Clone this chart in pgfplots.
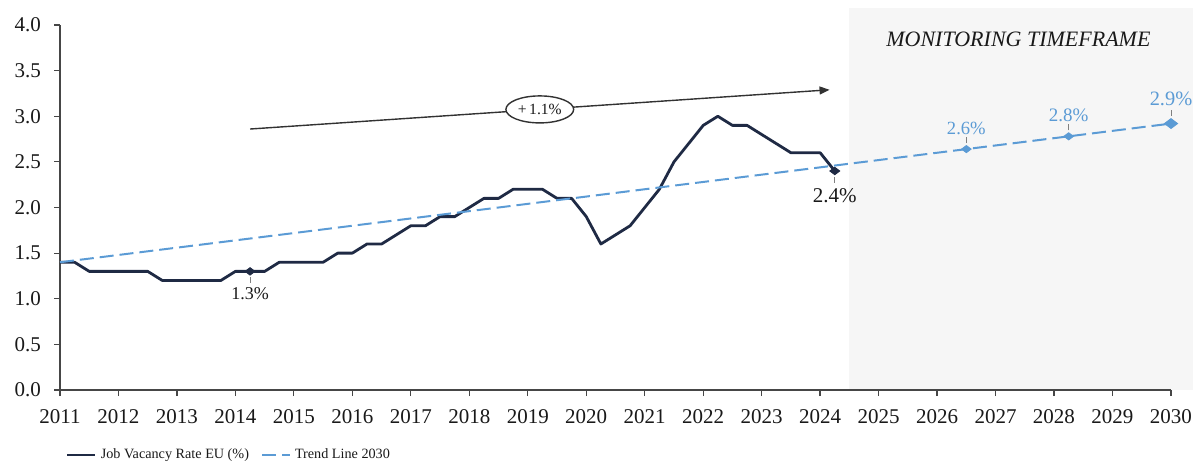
\documentclass[border=0pt]{standalone}
\usepackage{pgfplots}
\usepackage{pgfplotstable}
\pgfplotsset{compat=1.18}
\usepackage{fontspec}
\setmainfont{Liberation Serif}
\usetikzlibrary{arrows.meta,shapes.geometric}
\definecolor{navy}{RGB}{31,42,68}
\definecolor{trend}{RGB}{91,155,213}
\definecolor{bandgray}{RGB}{246,246,246}
\definecolor{axisgray}{RGB}{70,70,70}
\definecolor{txt}{RGB}{25,25,25}

\pgfplotstableread{
x y
2011.00 1.4
2011.25 1.4
2011.50 1.3
2011.75 1.3
2012.00 1.3
2012.25 1.3
2012.50 1.3
2012.75 1.2
2013.00 1.2
2013.25 1.2
2013.50 1.2
2013.75 1.2
2014.00 1.3
2014.25 1.3
2014.50 1.3
2014.75 1.4
2015.00 1.4
2015.25 1.4
2015.50 1.4
2015.75 1.5
2016.00 1.5
2016.25 1.6
2016.50 1.6
2016.75 1.7
2017.00 1.8
2017.25 1.8
2017.50 1.9
2017.75 1.9
2018.00 2.0
2018.25 2.1
2018.50 2.1
2018.75 2.2
2019.00 2.2
2019.25 2.2
2019.50 2.1
2019.75 2.1
2020.00 1.9
2020.25 1.6
2020.50 1.7
2020.75 1.8
2021.00 2.0
2021.25 2.2
2021.50 2.5
2021.75 2.7
2022.00 2.9
2022.25 3.0
2022.50 2.9
2022.75 2.9
2023.00 2.8
2023.25 2.7
2023.50 2.6
2023.75 2.6
2024.00 2.6
2024.25 2.4
}\jvr

\pgfplotstableread{
x y
2011.00 1.40
2030.00 2.92
}\trendtab

\pgfplotstableread{
x y
2026.50 2.64
2028.25 2.78
}\trendpts

\begin{document}
\begin{tikzpicture}
\begin{axis}[
  set layers,
  scale only axis,
  width=555.5pt, height=182.5pt,
  xmin=2011, xmax=2030, ymin=0, ymax=4,
  clip=false,
  axis x line*=bottom, axis y line*=left,
  axis line style={axisgray, line width=0.6pt},
  tick align=outside,
  major tick length=3pt, minor tick length=3pt,
  tick style={axisgray, line width=0.6pt},
  xtick={2011,2012,...,2030},
  minor x tick num=3,
  ytick={0,0.5,1,1.5,2,2.5,3,3.5,4},
  /pgf/number format/assume math mode=true,
  xticklabel style={/pgf/number format/1000 sep=, font=\fontsize{10.5}{12}\selectfont, text=txt, yshift=-3pt},
  yticklabel style={/pgf/number format/fixed, /pgf/number format/fixed zerofill, /pgf/number format/precision=1, font=\fontsize{10.5}{12}\selectfont, text=txt, xshift=-3pt},
  legend style={draw=none, fill=none, at={(0.005,-0.178)}, anchor=west, inner sep=0pt,
    font=\fontsize{7.1}{8}\selectfont, text=txt,
    /tikz/every even column/.append style={column sep=4pt}},
  legend columns=2,
  legend image code/.code={\draw[#1] (0pt,0pt) -- (14pt,0pt);},
]
\coordinate (BL) at (rel axis cs:0,0);
\coordinate (TR) at (rel axis cs:1,1);

\begin{pgfonlayer}{axis background}
\fill[fill=bandgray] (axis cs:2024.5,0) rectangle (axis cs:2030.37,4.19);
\end{pgfonlayer}

\addplot[navy, line width=1.4pt, line join=round] table[x=x,y=y] {\jvr};
\addlegendentry{Job Vacancy Rate EU (\%)}
\addplot[trend, line width=1pt, dash pattern=on 7pt off 3pt] table[x=x,y=y] {\trendtab};
\addlegendentry{Trend Line 2030}

\addplot[forget plot, only marks, mark=diamond*, mark size=2.5pt, mark options={rotate=90, fill=navy, draw=navy}]
  coordinates {(2014.25,1.3) (2024.25,2.4)};
\addplot[forget plot, only marks, mark=diamond*, mark size=2.4pt, mark options={rotate=90, fill=trend, draw=trend}]
  table[x=x,y=y] {\trendpts};
\addplot[forget plot, only marks, mark=diamond*, mark size=3.3pt, mark options={rotate=90, fill=trend, draw=trend}]
  coordinates {(2030,2.92)};

% data labels
\draw[gray, densely dashed, line width=0.5pt] ([yshift=-3pt]axis cs:2014.25,1.3) -- ([yshift=-6pt]axis cs:2014.25,1.3);
\node[anchor=base, font=\fontsize{9}{10}\selectfont, text=txt] at ([yshift=-14pt]axis cs:2014.25,1.3) {1.3\%};
\draw[gray, densely dashed, line width=0.5pt] ([yshift=-3pt]axis cs:2024.25,2.4) -- ([yshift=-6pt]axis cs:2024.25,2.4);
\node[anchor=base, font=\fontsize{10.5}{12}\selectfont, text=txt] at ([yshift=-15.5pt]axis cs:2024.25,2.4) {2.4\%};

\draw[gray, densely dashed, line width=0.5pt] ([yshift=3pt]axis cs:2026.5,2.64) -- ([yshift=6pt]axis cs:2026.5,2.64);
\node[anchor=base, font=\fontsize{9.3}{10}\selectfont, text=trend] at ([yshift=7.5pt]axis cs:2026.5,2.64) {2.6\%};
\draw[gray, densely dashed, line width=0.5pt] ([yshift=3pt]axis cs:2028.25,2.78) -- ([yshift=6pt]axis cs:2028.25,2.78);
\node[anchor=base, font=\fontsize{9.5}{10}\selectfont, text=trend] at ([yshift=7.5pt]axis cs:2028.25,2.78) {2.8\%};
\draw[gray, densely dashed, line width=0.5pt] ([yshift=4pt]axis cs:2030,2.92) -- ([yshift=7pt]axis cs:2030,2.92);
\node[anchor=base, font=\fontsize{10.2}{11}\selectfont, text=trend] at ([yshift=9pt]axis cs:2030,2.92) {2.9\%};

% monitoring title
\node[anchor=base, font=\fontsize{11}{12}\selectfont\itshape, text=txt] at (axis cs:2027.39,3.76) {MONITORING TIMEFRAME};

% growth arrow
\draw[-{Triangle[length=5pt,width=4pt]}, color={rgb,255:red,50;green,50;blue,50}, line width=0.7pt]
  (axis cs:2014.25,2.86) -- (axis cs:2024.16,3.29)
  node[pos=0.5, ellipse, draw, fill=white, inner sep=1pt, minimum width=31pt, minimum height=13.5pt,
       font=\fontsize{7.8}{9}\selectfont, text=txt] {+\,1.1\%};
\end{axis}
\pgfresetboundingbox
\path[use as bounding box] ([shift={(-30pt,-40.5pt)}]BL) rectangle ([shift={(16pt,12.5pt)}]TR);
\end{tikzpicture}
\end{document}
